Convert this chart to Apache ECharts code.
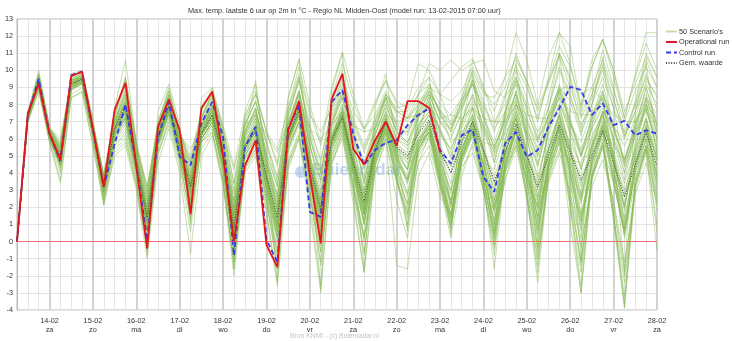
<!DOCTYPE html>
<html><head><meta charset="utf-8">
<script src="https://cdn.jsdelivr.net/npm/echarts@6/dist/echarts.min.js"></script>
<style>html,body{margin:0;padding:0;background:#fff}#c{width:732px;height:341px}</style>
</head><body><div id="c"></div>
<script>
// ---- tick labels ----
const dayDates = ['14-02','15-02','16-02','17-02','18-02','19-02','20-02','21-02','22-02','23-02','24-02','25-02','26-02','27-02','28-02'];
const dayNames = ['za','zo','ma','di','wo','do','vr','za','zo','ma','di','wo','do','vr','za'];
const yTicks = [-4,13,1];
// ---- series: 6-hourly from 13-02 06:00 to 28-02 00:00 ----
const operational = [0,7.5,9.2,6.3,4.75,9.67,9.92,6.6,3.2,7.7,9.27,4.4,-0.4,6.7,8.3,6.5,1.6,7.8,8.75,5.0,0.0,4.4,5.9,-0.2,-1.5,6.5,8.2,3.9,-0.1,8.3,9.8,5.4,4.5,5.9,7.0,5.6,8.2,8.2,7.8,5.2];
const control = [0,7.4,9.5,6.3,4.7,9.72,9.92,6.5,3.2,5.7,8.0,4.5,0.1,6.1,8.16,4.95,4.46,6.9,8.16,6.1,-0.8,5.5,6.7,0.1,-1.2,6.6,7.97,1.73,1.44,8.16,8.85,6.3,4.46,5.34,5.77,5.92,6.8,7.39,7.78,5.34,4.56,6.2,6.55,3.78,2.9,5.73,6.4,4.95,5.34,6.7,7.78,9.04,8.85,7.39,8.07,6.8,7.05,6.2,6.5,6.3];
const meanVal = [0,7.3,9.4,6.3,5.0,9.2,9.5,6.5,3.3,6.6,8.0,4.6,1.4,6.0,7.9,5.5,3.2,6.3,7.4,5.0,0.8,5.5,6.5,3.8,1.4,6.1,7.7,4.4,1.9,5.9,7.3,4.6,2.3,5.3,7.0,5.5,5.0,6.3,7.1,5.3,4.0,5.8,7.0,5.3,3.5,5.2,6.9,5.0,3.2,5.0,6.8,5.2,3.6,5.0,6.5,4.6,2.6,4.5,6.4,4.4];
const zeroLine = [0];

const scen01=[0,7.3,9.4,6.3,5.0,9.2,9.5,6.4,3.2,6.6,7.8,4.5,1.2,6.1,8.0,5.4,2.8,6.5,7.6,4.8,0.4,5.6,6.8,3.6,0.8,6.2,7.9,4.2,1.2,6.0,7.6,4.4,1.8,5.4,7.2,5.0,3.6,6.4,7.4,4.8,2.8,5.8,7.4,5.0,2.4,5.2,7.2,4.6,1.8,5.0,7.0,4.8,2.2,5.0,6.8,4.0,1.4,4.6,6.8,4.2];
const scen02=[0,7.2,9.2,6.1,4.6,9.0,9.3,6.2,2.9,6.0,7.0,4.0,0.6,5.6,7.6,5.0,2.0,6.0,7.0,4.4,-0.2,5.0,6.2,3.0,0.2,5.6,7.2,3.6,0.4,5.4,7.0,4.0,1.2,5.0,6.8,4.6,2.8,6.0,7.0,4.2,2.0,5.4,7.0,4.4,1.6,4.8,6.8,4.2,1.4,4.6,6.6,4.4,1.6,4.6,6.4,3.6,0.6,4.2,6.4,3.8];
const scen03=[0,7.5,9.7,6.6,5.6,9.5,9.8,6.8,3.8,7.4,9.2,5.6,2.8,6.9,8.8,6.4,4.6,7.4,8.6,6.2,2.4,6.8,8.2,5.8,3.6,7.6,9.6,6.8,4.6,7.8,9.4,7.2,5.6,7.2,8.6,7.6,7.2,8.2,8.8,7.6,6.8,7.8,9.2,7.8,6.6,7.6,9.6,8.0,6.4,7.8,10.0,8.4,6.8,8.0,9.6,7.8,6.2,7.6,9.2,8.0];
const scen04=[0,7.0,8.9,5.9,4.0,8.6,9.0,6.0,2.6,5.6,6.4,3.6,-0.2,5.2,7.0,4.6,1.6,5.4,6.4,3.6,-1.2,4.2,5.2,2.2,-1.0,4.6,6.2,2.6,-0.6,4.6,6.0,3.0,0.2,4.0,5.8,3.4,1.6,4.6,5.6,3.2,0.8,4.2,5.6,3.0,0.2,3.6,5.4,2.8,-0.4,3.4,5.2,2.8,-0.2,3.2,4.8,2.4,-1.2,2.8,4.6,2.2];
const scen05=[0,7.4,9.6,6.4,5.3,9.4,9.7,6.7,3.6,6.9,8.4,5.0,2.0,6.4,8.2,5.8,3.6,6.7,7.9,5.4,1.4,6.0,7.2,4.6,2.2,6.6,8.4,5.0,2.6,6.4,8.0,5.2,3.0,5.8,7.6,6.0,5.6,6.2,8.6,7.8,6.4,8.2,9.4,6.0,2.4,5.0,6.4,4.6,1.4,6.8,8.8,9.2,8.6,9.0,8.2,5.0,1.2,4.6,6.6,5.0];
const scen06=[0,7.1,9.0,6.0,4.3,8.8,9.2,6.1,2.4,5.4,6.0,3.4,-0.6,5.0,7.2,4.8,1.2,5.8,6.8,4.2,-0.8,4.8,5.8,2.8,-0.4,5.4,7.0,3.4,0.2,5.8,7.4,4.2,1.6,5.6,7.4,5.4,4.2,6.8,7.6,5.2,3.4,6.2,7.8,5.4,3.0,5.6,7.6,5.2,2.6,5.4,7.4,5.6,3.4,5.6,7.2,4.6,2.0,5.0,7.0,4.6];
const scen07=[0,7.3,9.5,6.2,4.9,9.1,9.4,6.5,3.4,6.5,7.5,4.6,1.6,6.2,7.8,5.2,3.0,6.2,7.2,5.0,1.0,5.4,6.6,3.8,1.6,6.0,7.6,4.6,2.2,6.2,7.6,4.8,2.6,5.6,7.2,5.6,5.2,6.6,7.4,5.6,4.4,6.2,7.4,5.4,3.8,5.6,7.2,5.2,3.4,5.4,7.0,5.4,3.8,5.2,6.8,5.0,3.0,4.8,6.6,4.8];
const scen08=[0,7.2,9.3,6.2,4.7,9.1,9.4,6.3,3.0,6.3,7.4,4.2,0.8,5.8,7.8,5.2,2.4,6.0,7.0,3.8,-1.6,4.4,5.4,1.8,-2.4,4.8,6.4,2.4,-2.6,4.6,6.2,2.2,-1.8,4.0,6.0,2.4,0.2,5.2,6.4,3.4,1.2,5.0,6.8,4.0,1.8,5.0,7.2,4.4,2.0,5.2,7.4,4.6,2.4,5.4,7.6,5.0,2.8,5.6,7.8,5.4];
const scen09=[0,7.4,9.5,6.5,5.5,9.3,9.6,6.7,3.7,7.2,9.6,5.8,3.0,6.8,8.4,6.2,4.8,7.2,8.8,6.6,3.4,7.0,8.6,6.4,4.4,7.8,10.2,7.6,5.6,8.4,10.4,8.2,6.4,8.0,9.4,8.2,7.8,9.0,9.6,8.6,8.2,8.8,10.2,8.8,8.0,9.0,10.8,9.4,7.6,9.2,11.0,9.6,7.4,9.0,10.6,8.8,7.0,8.8,10.2,9.0];
const scen10=[0,7.3,9.3,6.3,5.1,9.2,9.5,6.6,3.3,6.4,7.6,4.4,1.4,6.0,7.6,5.4,3.4,6.4,7.4,5.0,0.6,5.2,6.4,3.6,1.2,6.0,7.4,4.2,1.6,5.6,7.2,4.4,2.0,5.2,7.0,5.2,4.6,5.0,6.0,3.2,0.2,3.8,5.8,4.6,4.2,6.4,8.8,6.2,2.6,5.8,7.4,4.0,0.6,5.2,7.6,6.8,5.6,7.2,9.4,8.6];
const scen11=[0,7.6,10.0,6.7,4.2,9.8,10.0,7.2,2.2,7.8,10.6,5.8,-0.8,7.6,9.2,6.8,1.0,8.4,9.0,5.8,-1.6,7.6,9.2,4.4,-2.2,8.4,10.6,5.0,-2.8,8.8,11.0,5.2,-1.6,7.8,9.8,5.6,0.6,8.6,9.6,5.2,0.4,8.0,10.0,5.4,-0.2,7.6,10.4,5.6,-0.6,7.8,11.0,6.0,-1.0,8.0,10.8,5.6,-1.8,7.6,10.4,5.8];
const scen12=[0,7.2,9.2,6.2,4.9,9.2,9.4,6.4,3.1,6.5,7.7,4.8,1.8,6.3,8.0,5.6,3.8,6.6,7.8,5.4,1.6,5.8,6.8,4.0,1.8,6.2,7.6,4.6,2.4,6.0,7.2,4.6,2.6,5.4,6.8,5.4,4.8,6.8,7.6,6.6,5.2,4.4,5.2,3.0,1.8,4.0,5.6,3.8,2.0,3.6,5.4,4.8,4.6,6.0,7.6,5.2,3.4,5.4,7.2,3.0];
const scen13=[0,7.4,9.4,6.6,6.0,9.4,9.6,6.9,3.9,7.0,8.0,5.4,3.2,6.4,7.8,6.2,5.4,6.8,7.6,6.4,4.2,6.8,7.4,6.2,5.2,7.0,7.8,6.6,6.0,6.8,7.6,6.8,6.4,6.6,7.4,7.0,7.2,7.4,7.8,7.2,7.4,7.2,7.8,7.2,7.0,7.0,8.0,7.4,7.2,7.2,8.4,7.6,7.4,7.4,8.2,7.4,7.0,7.0,8.0,7.2];
const scen14=[0,7.1,9.1,6.0,4.5,8.9,9.3,6.3,2.9,6.1,7.2,4.2,1.0,5.8,7.7,5.3,2.9,6.3,7.4,4.8,0.4,5.4,6.4,3.2,0.4,5.8,7.6,4.0,1.0,5.8,7.4,4.4,1.6,5.2,7.0,5.0,3.6,7.2,8.4,5.4,2.0,6.8,9.6,7.4,4.6,7.6,8.2,5.0,0.6,4.4,6.0,3.4,0.2,4.6,7.0,4.8,1.8,5.8,8.0,6.4];
const scen15=[0,7.3,9.4,6.3,5.0,9.2,9.5,6.5,3.2,6.6,7.8,4.6,1.2,6.0,8.0,5.4,2.8,6.4,7.8,4.6,0.2,5.6,6.6,3.0,0.2,6.0,7.6,3.8,0.8,6.0,7.8,4.2,1.0,5.2,7.2,3.8,1.0,5.6,7.0,3.6,0.6,5.2,7.0,3.0,-0.8,4.6,6.8,2.6,-1.8,4.4,6.6,2.2,-2.6,4.2,6.4,1.4,-3.6,3.6,6.0,1.8];
const scen16=[0,7.5,9.7,6.5,5.5,9.5,9.8,6.7,3.6,7.0,8.8,5.0,2.0,6.6,8.6,6.0,3.6,7.2,8.4,5.6,1.4,6.4,7.8,4.6,1.8,6.8,8.6,5.0,2.4,6.8,8.4,5.4,3.0,6.2,8.0,6.4,5.8,7.6,8.6,7.0,6.0,7.6,9.4,7.6,5.4,7.4,10.0,8.4,6.0,8.4,11.0,9.4,6.6,8.6,11.2,9.0,6.2,8.2,11.0,9.6];
const scen17=[0,7.2,9.3,6.1,4.4,9.0,9.4,6.3,2.7,5.8,6.6,3.8,0.2,5.6,7.4,5.0,2.2,6.0,6.8,4.2,-0.4,5.0,6.0,3.4,0.8,5.6,7.0,3.8,0.8,5.4,6.8,4.2,1.8,4.8,6.6,4.8,3.4,5.6,6.8,4.4,2.2,5.4,7.0,4.6,1.8,5.2,7.4,5.0,2.2,5.4,7.6,5.4,2.6,5.6,7.4,5.0,2.0,5.2,7.2,5.0];
const scen18=[0,7.4,9.6,6.4,5.3,9.3,9.6,6.6,3.5,6.7,8.0,4.8,1.6,6.2,8.2,5.8,3.4,6.6,7.6,5.2,1.2,5.8,7.0,4.2,2.0,6.4,8.0,4.8,2.4,6.2,7.6,5.0,2.8,5.6,7.4,5.8,5.0,6.0,6.6,4.6,3.0,5.6,6.6,4.0,0.8,3.6,5.8,4.4,3.2,6.6,9.0,8.2,6.2,8.4,10.0,7.8,4.4,6.4,7.8,5.2];
const scen19=[0,7.0,8.8,5.8,3.6,8.4,8.8,5.6,2.2,5.2,5.8,3.2,-0.4,5.2,6.8,4.4,0.6,5.8,6.4,3.4,-1.2,4.4,5.6,2.4,-1.4,4.4,6.0,2.8,-1.2,5.0,6.6,3.2,-0.6,4.6,6.4,3.8,2.2,5.6,6.4,3.6,1.4,5.0,6.4,3.4,0.4,4.4,6.4,3.4,0.0,4.4,6.6,3.8,0.8,4.6,6.6,3.6,0.4,4.4,6.6,3.8];
const scen20=[0,7.3,9.4,6.4,5.2,9.3,9.6,6.6,3.4,6.8,8.2,5.0,1.8,6.4,8.4,6.0,4.0,6.8,8.2,5.8,2.0,6.2,7.6,5.0,2.6,6.8,8.8,5.6,3.0,6.8,8.6,6.0,3.6,6.4,8.4,6.8,6.2,7.8,9.0,7.4,6.6,8.2,9.8,8.2,6.4,8.4,11.0,9.2,7.0,9.6,12.2,10.4,7.6,10.2,11.8,9.6,7.2,9.8,12.2,12.2];
const scen21=[0,7.3,9.3,6.2,4.9,9.1,9.5,6.5,3.3,6.5,7.6,4.4,1.0,6.0,7.9,5.6,3.0,6.2,7.2,4.8,0.6,5.4,6.4,3.4,0.8,5.8,7.4,4.2,1.6,5.8,7.2,4.0,1.2,4.6,6.0,-1.4,-1.6,3.8,5.2,2.6,1.6,4.8,6.6,4.0,1.2,4.4,6.6,4.0,1.0,4.6,6.8,4.4,1.4,4.8,6.6,4.2,1.0,4.4,6.4,4.0];
const scen22=[0,7.4,9.5,6.5,5.4,9.4,9.7,6.8,3.7,7.0,8.6,5.2,2.4,6.6,8.2,6.0,4.2,7.0,8.0,5.8,2.2,6.4,7.6,5.2,3.2,7.0,8.8,6.0,4.0,7.2,8.8,6.8,5.2,7.0,8.4,7.6,7.6,8.6,10.4,10.0,10.6,10.0,10.4,10.6,8.8,8.4,9.6,7.6,6.0,7.2,8.8,7.0,5.0,6.8,8.4,6.0,4.0,6.2,8.0,6.0];
const scen23=[0,7.2,9.2,6.2,4.8,9.0,9.3,6.4,3.1,6.3,7.3,4.4,1.2,5.9,7.8,5.3,2.9,6.2,7.4,4.8,0.8,5.6,6.6,3.8,1.4,6.2,7.8,4.4,1.8,6.0,7.4,4.6,2.2,5.4,7.0,5.2,4.2,6.8,8.0,6.6,4.8,7.2,7.8,4.0,1.0,5.4,7.6,6.2,4.4,7.0,7.8,5.6,1.6,3.8,5.4,3.4,0.6,4.2,6.0,2.8];
const scen24=[0,7.3,9.5,6.3,5.0,9.2,9.5,6.5,3.2,6.5,7.7,4.5,1.3,6.0,8.0,5.5,3.0,6.4,7.6,4.8,0.6,5.6,6.8,3.6,1.0,6.0,7.6,3.8,0.6,5.6,7.0,3.4,0.4,4.8,6.6,4.2,2.0,5.4,6.4,3.8,1.0,4.8,6.2,3.2,-0.4,4.2,6.0,2.4,-1.4,3.8,5.8,2.0,-1.8,3.6,5.6,1.4,-2.4,3.2,5.4,0.6];
const scen25=[0,7.4,9.6,6.5,5.4,9.3,9.6,6.6,3.5,6.8,8.0,4.8,1.6,6.2,8.0,5.6,3.2,6.6,7.8,5.2,1.2,5.8,7.0,4.2,1.8,6.4,8.2,4.8,2.2,6.2,7.8,5.0,2.8,5.8,7.6,6.0,5.4,7.2,8.2,6.4,5.4,7.0,8.6,6.8,5.2,7.2,9.4,7.8,5.8,7.8,10.2,8.6,6.4,8.0,10.4,8.4,6.0,7.6,9.8,7.6];
const scen26=[0,7.1,9.1,6.1,4.6,8.9,9.2,6.2,3.0,6.2,7.2,4.2,0.9,5.8,7.6,5.2,2.6,6.0,7.0,4.4,0.0,5.2,6.2,3.2,0.6,5.8,7.4,3.8,1.0,5.6,7.2,4.0,1.4,5.0,6.8,4.8,3.4,5.8,6.8,4.4,2.4,5.4,6.8,4.6,2.0,5.0,6.6,4.2,1.4,4.6,6.4,4.0,1.2,4.4,6.2,3.4,0.6,4.0,6.0,3.4];
const scen27=[0,7.2,9.2,6.0,4.4,8.9,9.2,6.0,2.5,5.6,6.2,3.4,-0.4,5.4,7.4,4.8,1.4,5.8,6.6,3.4,-2.0,4.0,5.0,1.6,-2.6,4.2,6.0,1.8,-3.0,4.4,6.4,2.6,-1.8,4.4,6.4,3.6,1.4,5.4,6.6,3.8,1.6,5.4,7.0,4.4,2.0,5.2,7.2,4.6,2.4,5.4,7.4,4.8,2.6,5.6,7.4,4.6,2.2,5.2,7.2,4.8];
const scen28=[0,7.4,9.6,6.6,5.8,9.6,9.9,7.0,3.9,7.4,9.4,5.8,3.2,7.0,8.8,6.4,5.0,7.6,8.8,6.8,4.4,7.4,8.6,6.4,5.4,7.8,9.8,7.4,6.4,7.8,9.6,7.6,6.6,7.4,8.8,7.6,7.2,8.0,8.6,7.0,6.2,7.4,8.4,6.8,5.6,6.8,8.0,6.4,5.0,6.6,8.0,6.4,5.0,6.6,7.8,6.0,4.4,6.2,7.6,6.0];
const scen29=[0,7.3,9.4,6.3,5.0,9.2,9.5,6.5,3.4,6.6,7.8,4.6,1.5,6.1,8.0,5.6,3.2,6.4,7.6,5.0,1.0,5.6,6.8,3.8,1.4,6.2,7.8,4.4,1.8,6.0,7.4,4.6,2.2,5.4,7.0,5.4,4.8,5.8,6.8,4.2,1.6,4.6,6.2,5.8,5.6,7.0,8.6,6.0,3.8,6.2,8.0,6.8,5.8,7.6,8.4,4.4,0.8,4.0,5.6,3.4];
const scen30=[0,7.2,9.3,6.2,4.7,9.1,9.4,6.4,3.0,6.2,7.3,4.2,0.8,5.8,7.8,5.2,2.4,6.2,7.2,4.4,0.0,5.4,6.4,3.2,0.6,5.8,7.4,4.0,1.2,5.8,7.2,4.2,1.6,5.0,6.8,4.6,3.6,5.8,6.8,4.2,2.2,5.2,6.8,4.0,1.2,4.6,6.6,3.6,0.4,4.2,6.2,2.6,-1.2,3.8,5.8,2.0,-2.0,3.2,5.6,2.4];
const scen31=[0,7.5,9.8,6.6,5.6,9.5,9.8,6.8,3.7,7.2,9.0,5.4,2.4,6.8,8.6,6.2,4.4,7.2,8.6,6.4,3.0,6.8,8.2,5.8,3.8,7.4,9.4,6.6,4.8,7.6,9.2,7.0,5.4,7.0,8.6,7.4,7.0,8.0,9.2,8.0,7.4,8.4,10.6,9.0,7.6,9.6,12.2,10.6,8.0,10.8,12.2,11.4,7.8,10.6,11.8,10.0,7.2,9.6,11.6,10.0];
const scen32=[0,7.3,9.4,6.2,4.8,9.1,9.4,6.3,3.1,6.4,7.5,4.4,1.2,6.0,7.8,5.3,2.8,6.2,7.4,4.6,0.4,5.4,6.6,3.6,1.0,6.0,7.6,4.2,1.6,5.8,7.2,4.4,2.0,5.2,7.0,5.0,3.8,6.0,7.0,4.6,2.4,5.2,6.8,3.4,-1.6,4.2,6.4,2.8,-2.4,4.0,6.2,2.0,-3.0,3.8,6.0,1.6,-3.8,3.4,5.6,2.6];
const scen33=[0,7.4,9.5,6.4,5.2,9.3,9.6,6.6,3.5,6.8,8.2,4.8,1.8,6.4,8.4,5.8,3.6,6.8,8.0,5.4,1.8,6.2,7.4,4.6,2.6,6.8,8.6,5.6,3.4,7.0,8.8,6.2,4.2,6.6,8.6,7.8,8.0,10.4,10.0,8.6,6.8,8.2,9.2,7.2,5.4,7.2,8.6,6.4,4.4,6.8,8.4,6.2,4.2,6.6,8.0,5.8,3.6,6.2,7.8,5.6];
const scen34=[0,7.2,9.2,6.1,4.5,8.9,9.3,6.2,2.8,5.9,6.8,4.0,0.6,5.6,7.5,5.0,2.2,6.0,7.0,4.2,-0.2,5.0,6.0,3.0,0.0,5.4,7.0,3.4,0.4,5.4,6.8,3.8,1.0,4.8,6.6,4.4,2.8,5.6,6.6,4.0,1.6,5.0,6.6,4.0,1.0,4.6,6.6,4.0,0.8,4.6,6.6,4.2,1.2,4.6,6.4,3.6,0.4,4.2,6.2,3.6];
const scen35=[0,7.4,9.6,6.4,5.2,9.4,9.7,6.7,3.5,7.0,8.6,5.0,2.0,6.6,8.4,5.8,3.4,7.0,8.4,5.6,1.8,6.4,7.8,4.8,2.4,7.2,9.6,6.2,3.6,8.0,10.0,6.4,3.4,6.6,8.4,6.4,5.6,7.4,8.4,6.4,5.0,7.0,8.6,6.6,4.6,6.8,8.8,6.8,4.6,7.0,9.2,7.2,5.0,7.2,9.2,6.8,4.6,6.8,9.0,6.8];
const scen36=[0,7.3,9.4,6.3,5.0,9.2,9.5,6.5,3.3,6.5,7.6,4.6,1.4,6.0,7.9,5.5,3.2,6.3,7.3,4.8,0.8,5.4,6.4,3.6,1.2,6.0,7.6,4.2,1.6,5.8,7.2,4.4,2.0,5.2,6.8,5.0,4.2,7.4,8.8,7.6,5.8,6.4,7.2,4.4,2.2,6.0,7.8,5.4,1.2,4.6,6.4,3.6,-0.4,3.8,6.6,5.6,4.8,6.4,8.2,5.2];
const scen37=[0,7.4,9.5,6.5,5.3,9.3,9.6,6.6,3.5,6.8,8.2,5.0,1.8,6.4,8.2,5.8,3.6,6.8,7.8,5.4,1.6,6.0,7.2,4.4,2.2,6.6,8.2,5.0,2.8,6.6,8.0,5.4,3.4,6.2,7.8,6.6,6.4,7.8,9.0,8.6,9.4,10.2,10.7,9.0,7.0,8.0,9.4,7.2,5.4,7.4,9.0,7.0,5.2,7.2,8.6,6.6,4.6,6.8,8.4,6.4];
const scen38=[0,7.1,9.1,6.0,4.5,8.9,9.3,6.2,2.9,6.0,7.0,4.0,0.6,5.6,7.6,5.0,2.2,6.0,7.0,4.0,-0.6,4.8,5.8,2.6,-0.8,5.2,6.8,3.0,-0.6,5.0,6.6,3.4,0.2,4.6,6.4,4.0,2.2,5.4,6.4,3.8,1.2,4.8,6.4,3.6,0.2,4.4,6.4,3.4,-0.4,4.2,6.2,3.0,-1.4,4.0,5.8,1.6,-3.2,3.4,5.4,1.0];
const scen39=[0,7.4,9.6,6.6,5.6,9.4,9.7,6.8,3.8,7.0,8.8,5.4,2.6,6.8,8.6,6.2,4.4,7.2,8.6,6.2,2.8,6.8,8.2,5.6,3.4,7.4,9.4,6.4,4.2,7.4,9.0,6.6,4.6,6.8,8.4,7.0,6.6,7.8,8.8,7.6,7.0,8.4,10.0,8.6,8.4,9.6,10.6,9.4,7.8,9.4,10.8,9.0,7.2,8.6,10.2,8.2,6.4,8.0,9.6,8.4];
const scen40=[0,7.2,9.3,6.2,4.8,9.1,9.4,6.4,3.2,6.4,7.6,4.4,1.3,6.0,7.8,5.4,2.8,6.2,7.2,4.6,0.4,5.4,6.6,3.4,0.8,6.0,7.6,4.0,1.2,5.8,7.4,4.2,1.6,5.2,7.0,4.8,3.6,5.8,6.4,5.0,4.4,6.6,8.0,5.2,2.0,4.2,5.6,3.6,2.0,5.4,6.6,4.2,2.4,5.8,7.6,6.6,6.0,8.0,10.6,9.0];
const scen41=[0,7.5,9.8,6.7,5.7,9.6,9.9,6.9,3.8,7.4,9.6,5.6,2.8,7.0,9.0,6.4,4.6,7.6,9.0,6.6,3.4,7.2,8.8,6.4,4.6,8.4,10.7,8.0,5.8,9.0,11.1,8.6,6.6,8.2,9.4,8.0,7.2,8.6,9.2,7.4,6.4,8.0,9.2,7.2,5.8,7.6,9.2,7.0,5.2,7.4,9.0,6.8,5.0,7.4,8.8,6.6,4.8,7.0,8.6,6.8];
const scen42=[0,7.3,9.4,6.3,4.9,9.2,9.5,6.5,3.3,6.6,7.8,4.6,1.2,6.1,8.0,5.4,3.0,6.4,7.6,4.8,0.6,5.6,6.8,3.6,1.0,6.2,7.8,4.2,1.4,6.0,7.4,4.4,1.8,5.2,7.0,5.2,4.2,6.6,8.2,5.8,2.2,5.0,6.4,3.6,0.6,5.6,8.0,7.0,5.8,7.4,8.0,5.2,2.8,6.2,7.4,4.4,0.2,3.6,5.6,4.8];
const scen43=[0,7.0,8.8,5.8,3.4,8.4,8.7,5.6,2.1,5.0,5.6,3.0,-1.0,4.6,6.6,4.0,-0.7,5.0,6.2,3.2,-1.2,4.2,5.4,2.4,-1.6,4.6,6.2,2.8,-1.4,4.8,6.4,3.0,-0.8,4.4,6.4,3.6,1.8,5.4,6.4,3.4,1.0,4.8,6.4,3.4,0.6,4.6,6.6,3.6,0.4,4.6,6.8,4.0,1.0,4.8,6.8,3.8,0.8,4.6,6.6,3.8];
const scen44=[0,7.4,9.5,6.4,5.3,9.3,9.6,6.6,3.6,6.8,8.2,5.0,1.8,6.4,8.2,5.8,3.8,6.8,8.0,5.6,2.0,6.2,7.4,4.8,2.8,6.8,8.6,5.6,3.6,6.8,8.4,5.8,3.8,6.2,8.0,6.4,5.8,7.2,8.0,6.2,5.4,6.8,8.2,6.4,5.0,6.6,8.4,6.6,5.0,6.8,8.8,7.0,5.4,7.0,8.6,6.6,4.8,6.6,8.4,6.6];
const scen45=[0,7.2,9.2,6.1,4.6,9.0,9.3,6.3,2.9,6.2,7.2,4.0,0.6,5.8,7.6,5.0,2.4,6.0,7.0,4.2,-0.4,5.0,6.0,2.6,-0.6,5.4,7.0,3.2,-0.2,5.2,6.8,3.2,0.0,4.4,6.2,3.6,1.6,5.2,6.2,3.4,0.8,4.6,6.2,3.0,-0.2,4.0,6.0,2.6,-1.0,3.8,5.8,2.4,-1.2,3.8,5.6,2.2,-1.6,3.4,5.4,2.2];
const scen46=[0,7.4,9.5,6.5,5.4,9.4,9.7,6.8,3.7,7.0,8.4,5.2,2.2,6.6,8.4,6.0,4.0,7.0,8.2,5.8,2.4,6.4,7.8,5.2,3.2,7.0,8.8,6.0,4.0,7.0,8.6,6.2,4.4,6.6,8.2,6.8,6.4,7.6,8.6,7.0,6.6,7.8,9.4,8.0,6.8,8.6,10.2,9.0,7.2,9.4,11.4,10.2,8.0,10.2,11.8,10.0,7.6,9.2,10.8,9.6];
const scen47=[0,7.3,9.5,6.3,5.1,9.2,9.5,6.5,3.4,6.6,7.8,4.8,1.6,6.2,8.0,5.6,3.4,6.6,7.8,5.2,1.4,6.2,9.4,4.6,2.0,6.4,8.0,4.6,2.0,6.2,7.6,4.8,2.6,5.6,7.2,5.6,4.8,6.4,7.4,5.4,4.0,6.0,7.4,5.4,3.4,5.6,7.4,5.2,3.0,5.4,7.2,5.2,3.2,5.4,7.0,4.8,2.6,5.0,6.8,4.8];
const scen48=[0,7.2,9.3,6.1,4.6,9.0,9.3,6.3,3.0,6.2,7.2,4.2,0.8,5.8,7.6,5.2,2.4,6.2,7.2,4.4,0.0,5.2,6.2,3.2,0.4,5.8,7.4,3.6,0.6,5.6,7.0,3.8,1.0,4.8,6.6,4.2,2.6,5.4,6.6,4.0,1.4,5.0,6.6,3.6,0.4,4.4,6.4,3.0,-1.0,4.0,6.0,1.0,-3.0,3.6,5.6,1.2,-3.9,3.0,5.2,-0.5];
const scen49=[0,7.3,9.4,6.3,5.0,9.2,9.6,6.6,3.4,6.6,7.8,4.8,1.6,6.2,8.0,5.6,3.4,6.4,7.6,5.2,1.2,5.6,6.8,4.0,1.6,6.2,7.8,4.6,2.0,6.0,7.6,4.8,2.4,5.4,7.2,5.4,4.6,6.0,6.8,4.8,3.0,5.8,7.8,6.6,5.2,6.4,7.2,4.0,0.8,4.8,7.0,5.8,4.4,5.6,6.8,3.8,2.0,5.4,8.4,7.4];
const scen50=[0,7.2,9.2,6.2,4.8,9.0,9.4,6.4,3.1,6.4,7.6,4.4,1.2,6.0,7.8,5.4,2.8,6.2,7.4,4.6,0.4,5.4,6.6,3.6,1.0,6.0,7.6,4.2,1.4,5.8,7.2,4.2,1.6,5.0,6.6,3.6,0.8,4.6,6.2,3.4,1.4,5.2,7.2,5.0,3.0,6.0,8.2,6.0,3.6,6.4,8.6,6.6,4.2,6.8,8.8,6.6,4.0,6.6,9.0,6.8];
const scenarios=[scen01,scen02,scen03,scen04,scen05,scen06,scen07,scen08,scen09,scen10,scen11,scen12,scen13,scen14,scen15,scen16,scen17,scen18,scen19,scen20,scen21,scen22,scen23,scen24,scen25,scen26,scen27,scen28,scen29,scen30,scen31,scen32,scen33,scen34,scen35,scen36,scen37,scen38,scen39,scen40,scen41,scen42,scen43,scen44,scen45,scen46,scen47,scen48,scen49,scen50];

// ---- categories: 6-hourly steps from 13-02 06:00 ----
const nSteps = 60;
const cats = [];
for (let i = 0; i < nSteps; i++) cats.push(String(i));
const labelFor = i => { const d = (i - 3) / 4; return dayDates[d] + '\n' + dayNames[d]; };
const isDay = i => (i % 4) === 3;

const FONT = 'Liberation Sans, Arial, sans-serif';
const GREEN = 'rgba(130,185,80,0.45)';
const series = [];
scenarios.forEach(arr => series.push({
  name: "50 Scenario's", type: 'line', data: arr, symbol: 'none', silent: true,
  lineStyle: { color: GREEN, width: 1 }, itemStyle: { color: '#8fc06a' }, z: 2
}));
series.push({ name: 'Gem. waarde', type: 'line', data: meanVal, symbol: 'none',
  lineStyle: { color: '#444', width: 1.1, type: [1, 1.6] }, itemStyle: { color: '#444' }, z: 3,
  markLine: { silent: true, symbol: 'none', label: { show: false },
    lineStyle: { color: 'rgba(255,95,95,0.8)', width: 1.2, type: 'solid' },
    data: zeroLine.map(v => ({ yAxis: v })) } });
series.push({ name: 'Control run', type: 'line', data: control, symbol: 'none',
  lineStyle: { color: '#3838f0', width: 1.8, type: [5, 3] }, itemStyle: { color: '#3838f0' }, z: 4 });
series.push({ name: 'Operational run', type: 'line', data: operational, symbol: 'none',
  lineStyle: { color: '#e8141c', width: 1.8 }, itemStyle: { color: '#e8141c' }, z: 5 });

const chart = echarts.init(document.getElementById('c'), null, { renderer: 'canvas' });
chart.setOption({
  animation: false,
  title: { text: 'Max. temp. laatste 6 uur op 2m in °C - Regio NL Midden-Oost (model run: 13-02-2015 07:00 uur)',
    left: 183, top: 2, textStyle: { fontSize: 7.3, fontWeight: 'normal', color: '#333', fontFamily: FONT } },
  legend: { orient: 'vertical', left: 660, top: 23, itemWidth: 11, itemHeight: 8, itemGap: 3.5,
    itemStyle: { opacity: 0 },
    data: ["50 Scenario's", 'Operational run', 'Control run', 'Gem. waarde'],
    textStyle: { fontSize: 7.3, color: '#333', fontFamily: FONT, padding: [0, 0, 0, -3] } },
  grid: { left: 17, right: 75, top: 19, bottom: 31, show: true, borderColor: '#b8b8b8', borderWidth: 1 },
  xAxis: [
    { type: 'category', data: cats, boundaryGap: false,
      axisLine: { show: true, lineStyle: { color: '#b8b8b8' } }, axisTick: { show: false },
      axisLabel: { interval: (i) => isDay(i), formatter: (v, i) => labelFor(Number(v)), fontSize: 7.3,
        color: '#333', fontFamily: FONT, lineHeight: 9, margin: 6 },
      splitLine: { show: true, interval: 0, lineStyle: { color: '#e4e4e4', width: 1 } } },
    { type: 'category', data: cats, boundaryGap: false, position: 'bottom',
      axisLine: { show: false }, axisTick: { show: false }, axisLabel: { show: false },
      splitLine: { show: true, interval: (i) => isDay(i), lineStyle: { color: '#d2d2d2', width: 2 } } }
  ],
  yAxis: { type: 'value', min: yTicks[0], max: yTicks[1], interval: yTicks[2],
    axisLine: { show: true, lineStyle: { color: '#b8b8b8' } }, axisTick: { show: false },
    axisLabel: { fontSize: 7.3, color: '#333', fontFamily: FONT, margin: 4 },
    splitLine: { lineStyle: { color: '#e2e2e2', width: 1 } } },
  graphic: [
    { type: 'text', left: 290, top: 333, style: { text: 'Bron KNMI - (c) Buienradar.nl', fill: '#c4c4c4', font: '6.8px ' + FONT } },
    { type: 'circle', shape: { cx: 301, cy: 172, r: 6 }, style: { fill: 'rgba(90,150,205,0.35)' }, z: 1 },
    { type: 'text', left: 312, top: 162, style: { text: 'Buienradar', fill: 'rgba(90,150,205,0.38)', font: 'bold 17px ' + FONT }, z: 1 }
  ],
  series: series
});
</script></body></html>
